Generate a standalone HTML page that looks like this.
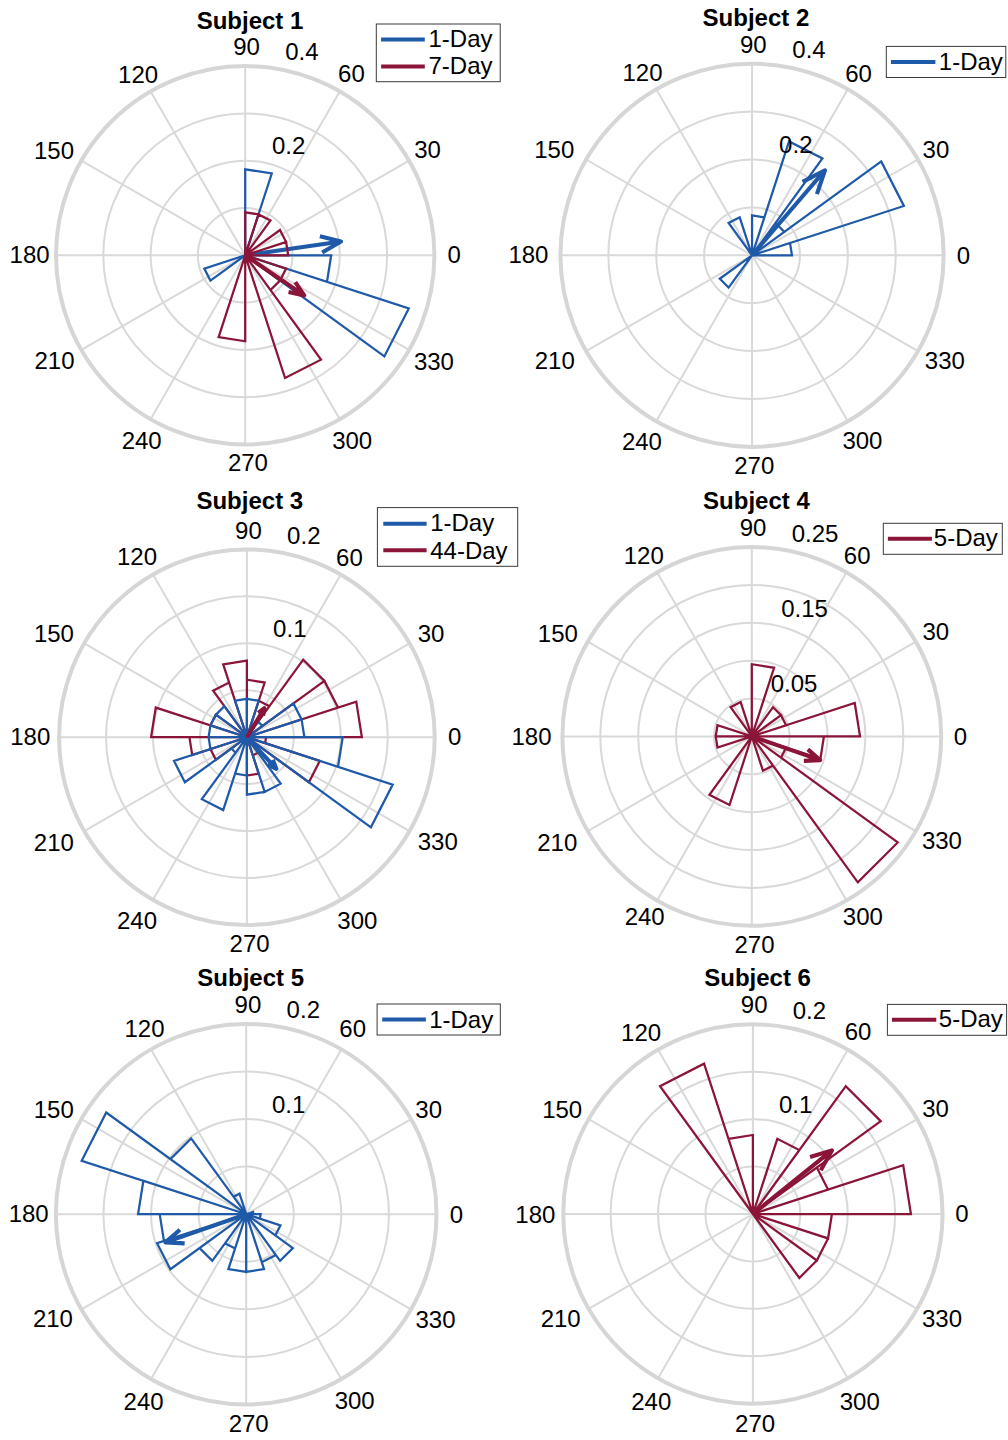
<!DOCTYPE html>
<html lang="en"><head><meta charset="utf-8"><title>Polar histograms</title>
<style>html,body{margin:0;padding:0;background:#fff}svg{display:block}text{font-family:"Liberation Sans", sans-serif;fill:#000}</style></head><body>
<svg width="1008" height="1440" viewBox="0 0 1008 1440">
<rect width="1008" height="1440" fill="#fff"/>
<g>
<g fill="none" stroke="#d9d9d9" stroke-width="2">
<circle cx="245.2" cy="255.3" r="47.3"/>
<circle cx="245.2" cy="255.3" r="94.6"/>
<circle cx="245.2" cy="255.3" r="141.9"/>
<path d="M245.2 255.3L434.4 255.3M245.2 255.3L409.05 160.7M245.2 255.3L339.8 91.45M245.2 255.3L245.2 66.1M245.2 255.3L150.6 91.45M245.2 255.3L81.35 160.7M245.2 255.3L56 255.3M245.2 255.3L81.35 349.9M245.2 255.3L150.6 419.15M245.2 255.3L245.2 444.5M245.2 255.3L339.8 419.15M245.2 255.3L409.05 349.9"/>
</g>
<circle cx="245.2" cy="255.3" r="189.2" fill="none" stroke="#d6d6d6" stroke-width="4"/>
<path d="M245.2 255.3L271.78 173.51L245.2 169.3L245.2 255.3L204.3 268.59L210.41 280.57L245.2 255.3L384.35 356.4L408.78 308.45L245.2 255.3L326.99 281.88L331.2 255.3L245.2 255.3" fill="none" stroke="#1f5aa9" stroke-width="2.25" stroke-linejoin="miter"/>
<path d="M245.2 255.3L341.02 241.56M319.87 236.35L341.02 241.56L322.19 252.5" fill="none" stroke="#1f5aa9" stroke-width="4.1" stroke-linejoin="round" stroke-linecap="butt"/>
<path d="M245.2 255.3L288.2 255.3L286.1 242.01L245.2 255.3L286.1 242.01L279.99 230.03L245.2 255.3L270.47 220.51L258.49 214.4L245.2 255.3L258.49 214.4L245.2 212.3L245.2 255.3L218.62 337.09L245.2 341.3L245.2 255.3L285.06 377.99L321.02 359.66L245.2 255.3L270.47 290.09L279.99 280.57L245.2 255.3L279.99 280.57L286.1 268.59L245.2 255.3" fill="none" stroke="#8b1538" stroke-width="2.25" stroke-linejoin="miter"/>
<path d="M245.2 255.3L304.21 295.39M295.28 282.05L304.21 295.39L288.52 292" fill="none" stroke="#8b1538" stroke-width="4.1" stroke-linejoin="round" stroke-linecap="butt"/>
<g font-size="24" text-anchor="middle">
<text x="454.3" y="262.8">0</text>
<text x="427.5" y="157.5">30</text>
<text x="351.4" y="82.3">60</text>
<text x="246.5" y="54.7">90</text>
<text x="138.1" y="82.7">120</text>
<text x="54.05" y="158.65">150</text>
<text x="29.6" y="262.6">180</text>
<text x="54.55" y="368.7">210</text>
<text x="141.65" y="448.7">240</text>
<text x="247.9" y="471">270</text>
<text x="352.15" y="448.7">300</text>
<text x="433.95" y="369.7">330</text>
<text x="288.7" y="154">0.2</text>
<text x="301.9" y="59.7">0.4</text>
</g>
<text x="250" y="28.6" font-size="24" font-weight="bold" text-anchor="middle">Subject 1</text>
<rect x="376.3" y="24" width="123.9" height="57.7" fill="#fff" stroke="#3a3a3a" stroke-width="1"/>
<line x1="381.1" y1="39.5" x2="424.8" y2="39.5" stroke="#1f5aa9" stroke-width="4"/>
<text x="428.5" y="47.3" font-size="24">1-Day</text>
<line x1="381.1" y1="66.4" x2="424.8" y2="66.4" stroke="#8b1538" stroke-width="4"/>
<text x="428.5" y="74.3" font-size="24">7-Day</text>
</g>
<g>
<g fill="none" stroke="#d9d9d9" stroke-width="2">
<circle cx="752.05" cy="255.3" r="47.9"/>
<circle cx="752.05" cy="255.3" r="95.8"/>
<circle cx="752.05" cy="255.3" r="143.7"/>
<path d="M752.05 255.3L943.65 255.3M752.05 255.3L917.98 159.5M752.05 255.3L847.85 89.37M752.05 255.3L752.05 63.7M752.05 255.3L656.25 89.37M752.05 255.3L586.12 159.5M752.05 255.3L560.45 255.3M752.05 255.3L586.12 351.1M752.05 255.3L656.25 421.23M752.05 255.3L752.05 446.9M752.05 255.3L847.85 421.23M752.05 255.3L917.98 351.1"/>
</g>
<circle cx="752.05" cy="255.3" r="191.6" fill="none" stroke="#d6d6d6" stroke-width="4"/>
<path d="M752.05 255.3L791.97 255.3L790.01 242.97L752.05 255.3L903.9 205.96L881.22 161.45L752.05 255.3L784.34 231.84L775.51 223.01L752.05 255.3L822.44 158.42L789.05 141.41L752.05 255.3L764.38 217.34L752.05 215.38L752.05 255.3L739.72 217.34L728.59 223.01L752.05 255.3L719.76 278.76L728.59 287.59L752.05 255.3" fill="none" stroke="#1f5aa9" stroke-width="2.25" stroke-linejoin="miter"/>
<path d="M752.05 255.3L824.98 170.27M802.6 181.86L824.98 170.27L816.93 194.15" fill="none" stroke="#1f5aa9" stroke-width="4.1" stroke-linejoin="round" stroke-linecap="butt"/>
<g font-size="24" text-anchor="middle">
<text x="963.55" y="263.6">0</text>
<text x="935.93" y="157.9">30</text>
<text x="858.55" y="82.22">60</text>
<text x="753.35" y="53.2">90</text>
<text x="642.55" y="80.62">120</text>
<text x="554.22" y="158.35">150</text>
<text x="528.45" y="263.4">180</text>
<text x="554.72" y="368.5">210</text>
<text x="641.9" y="449.98">240</text>
<text x="754.25" y="474.2">270</text>
<text x="862.4" y="448.78">300</text>
<text x="944.88" y="368.5">330</text>
<text x="795.8" y="152.5">0.2</text>
<text x="809" y="57.5">0.4</text>
</g>
<text x="755.9" y="25.6" font-size="24" font-weight="bold" text-anchor="middle">Subject 2</text>
<rect x="886.3" y="46.4" width="119.5" height="31.1" fill="#fff" stroke="#3a3a3a" stroke-width="1"/>
<line x1="890.9" y1="61.9" x2="935.4" y2="61.9" stroke="#1f5aa9" stroke-width="4"/>
<text x="938.8" y="69.6" font-size="24">1-Day</text>
</g>
<g>
<g fill="none" stroke="#d9d9d9" stroke-width="2">
<circle cx="246.9" cy="737.2" r="46.95"/>
<circle cx="246.9" cy="737.2" r="93.9"/>
<circle cx="246.9" cy="737.2" r="140.85"/>
<path d="M246.9 737.2L434.7 737.2M246.9 737.2L409.54 643.3M246.9 737.2L340.8 574.56M246.9 737.2L246.9 549.4M246.9 737.2L153 574.56M246.9 737.2L84.26 643.3M246.9 737.2L59.1 737.2M246.9 737.2L84.26 831.1M246.9 737.2L153 899.84M246.9 737.2L246.9 925M246.9 737.2L340.8 899.84M246.9 737.2L409.54 831.1"/>
</g>
<circle cx="246.9" cy="737.2" r="187.8" fill="none" stroke="#d6d6d6" stroke-width="4"/>
<path d="M246.9 737.2L361.88 737.2L356.25 701.67L246.9 737.2L338.03 707.59L324.42 680.88L246.9 737.2L324.42 680.88L303.22 659.68L246.9 737.2L269.43 706.19L258.74 700.75L246.9 737.2L264.67 682.52L246.9 679.71L246.9 737.2L246.9 660.55L223.21 664.3L246.9 737.2L229.13 682.52L213.11 690.69L246.9 737.2L215.89 714.67L210.45 725.36L246.9 737.2L155.77 707.59L151.08 737.2L246.9 737.2L189.41 737.2L192.22 754.97L246.9 737.2L210.45 749.04L215.89 759.73L246.9 737.2L246.9 775.53L258.74 773.65L246.9 737.2L252.82 755.43L258.16 752.7L246.9 737.2L308.91 782.26L319.8 760.89L246.9 737.2L265.13 743.12L266.06 737.2L246.9 737.2" fill="none" stroke="#8b1538" stroke-width="2.25" stroke-linejoin="miter"/>
<path d="M246.9 737.2L304.39 737.2L301.58 719.43L246.9 737.2L301.58 719.43L293.41 703.41L246.9 737.2L262.4 725.94L258.16 721.7L246.9 737.2L258.74 700.75L246.9 698.87L246.9 737.2L246.9 698.87L235.06 700.75L246.9 737.2L224.37 706.19L215.89 714.67L246.9 737.2L215.89 714.67L210.45 725.36L246.9 737.2L210.45 725.36L208.57 737.2L246.9 737.2L208.57 737.2L210.45 749.04L246.9 737.2L174 760.89L184.89 782.26L246.9 737.2L231.4 748.46L235.64 752.7L246.9 737.2L201.84 799.21L223.21 810.1L246.9 737.2L235.06 773.65L246.9 775.53L246.9 737.2L246.9 794.69L264.67 791.88L246.9 737.2L264.67 791.88L280.69 783.71L246.9 737.2L370.93 827.31L392.7 784.57L246.9 737.2L338.03 766.81L342.72 737.2L246.9 737.2" fill="none" stroke="#1f5aa9" stroke-width="2.25" stroke-linejoin="miter"/>
<path d="M246.9 737.2L276.37 768.88M272.9 759.79L276.37 768.88L267.55 764.76" fill="none" stroke="#1f5aa9" stroke-width="4.1" stroke-linejoin="round" stroke-linecap="butt"/>
<path d="M246.9 737.2L264.32 708.24M258.25 712.81L264.32 708.24L263.13 715.75" fill="none" stroke="#8b1538" stroke-width="4.1" stroke-linejoin="round" stroke-linecap="butt"/>
<g font-size="24" text-anchor="middle">
<text x="454.6" y="745">0</text>
<text x="431.09" y="641.5">30</text>
<text x="349.4" y="566.21">60</text>
<text x="248.4" y="538.9">90</text>
<text x="137" y="564.61">120</text>
<text x="53.96" y="641.95">150</text>
<text x="30.3" y="744.8">180</text>
<text x="53.86" y="850.9">210</text>
<text x="137.05" y="929.39">240</text>
<text x="249.6" y="952.3">270</text>
<text x="357.35" y="929.39">300</text>
<text x="437.74" y="849.7">330</text>
<text x="289.8" y="636.7">0.1</text>
<text x="303.8" y="544.3">0.2</text>
</g>
<text x="249.8" y="509.3" font-size="24" font-weight="bold" text-anchor="middle">Subject 3</text>
<rect x="377.4" y="507.6" width="140.3" height="58.7" fill="#fff" stroke="#3a3a3a" stroke-width="1"/>
<line x1="383.3" y1="523.7" x2="426.6" y2="523.7" stroke="#1f5aa9" stroke-width="4"/>
<text x="430.2" y="531.3" font-size="24">1-Day</text>
<line x1="383.3" y1="550.3" x2="426.6" y2="550.3" stroke="#8b1538" stroke-width="4"/>
<text x="430.2" y="558.7" font-size="24">44-Day</text>
</g>
<g>
<g fill="none" stroke="#d9d9d9" stroke-width="2">
<circle cx="751.8" cy="736.4" r="37.88"/>
<circle cx="751.8" cy="736.4" r="75.76"/>
<circle cx="751.8" cy="736.4" r="113.64"/>
<circle cx="751.8" cy="736.4" r="151.52"/>
<path d="M751.8 736.4L941.2 736.4M751.8 736.4L915.83 641.7M751.8 736.4L846.5 572.37M751.8 736.4L751.8 547M751.8 736.4L657.1 572.37M751.8 736.4L587.77 641.7M751.8 736.4L562.4 736.4M751.8 736.4L587.77 831.1M751.8 736.4L657.1 900.43M751.8 736.4L751.8 925.8M751.8 736.4L846.5 900.43M751.8 736.4L915.83 831.1"/>
</g>
<circle cx="751.8" cy="736.4" r="189.4" fill="none" stroke="#d6d6d6" stroke-width="4"/>
<path d="M751.8 736.4L860.03 736.4L854.73 702.96L751.8 736.4L786.11 725.25L780.99 715.19L751.8 736.4L780.99 715.19L773.01 707.21L751.8 736.4L774.1 667.78L751.8 664.25L751.8 736.4L740.65 702.09L730.59 707.21L751.8 736.4L717.49 725.25L715.72 736.4L751.8 736.4L715.72 736.4L717.49 747.55L751.8 736.4L709.39 794.77L729.5 805.02L751.8 736.4L762.95 770.71L773.01 765.59L751.8 736.4L857.83 882.33L897.73 842.43L751.8 736.4L780.99 757.61L786.11 747.55L751.8 736.4L820.42 758.7L823.95 736.4L751.8 736.4" fill="none" stroke="#8b1538" stroke-width="2.25" stroke-linejoin="miter"/>
<path d="M751.8 736.4L820.1 760.11M807.85 749.41L820.1 760.11L803.85 760.92" fill="none" stroke="#8b1538" stroke-width="4.1" stroke-linejoin="round" stroke-linecap="butt"/>
<g font-size="24" text-anchor="middle">
<text x="960.5" y="744.7">0</text>
<text x="935.77" y="639.8">30</text>
<text x="857.2" y="563.93">60</text>
<text x="753.1" y="536.1">90</text>
<text x="643.8" y="564.23">120</text>
<text x="557.88" y="642.05">150</text>
<text x="531.5" y="744.5">180</text>
<text x="557.28" y="850.9">210</text>
<text x="644.65" y="924.77">240</text>
<text x="754.5" y="953.2">270</text>
<text x="862.85" y="924.77">300</text>
<text x="941.92" y="848.5">330</text>
<text x="794" y="692.2">0.05</text>
<text x="804.5" y="617.4">0.15</text>
<text x="815" y="542.4">0.25</text>
</g>
<text x="756.4" y="508.9" font-size="24" font-weight="bold" text-anchor="middle">Subject 4</text>
<rect x="883.3" y="523.3" width="119" height="31" fill="#fff" stroke="#3a3a3a" stroke-width="1"/>
<line x1="887.9" y1="538.75" x2="931.9" y2="538.75" stroke="#8b1538" stroke-width="4"/>
<text x="933.8" y="546.4" font-size="24">5-Day</text>
</g>
<g>
<g fill="none" stroke="#d9d9d9" stroke-width="2">
<circle cx="246.2" cy="1214.2" r="47.58"/>
<circle cx="246.2" cy="1214.2" r="95.15"/>
<circle cx="246.2" cy="1214.2" r="142.73"/>
<path d="M246.2 1214.2L436.5 1214.2M246.2 1214.2L411 1119.05M246.2 1214.2L341.35 1049.4M246.2 1214.2L246.2 1023.9M246.2 1214.2L151.05 1049.4M246.2 1214.2L81.4 1119.05M246.2 1214.2L55.9 1214.2M246.2 1214.2L81.4 1309.35M246.2 1214.2L151.05 1379M246.2 1214.2L246.2 1404.5M246.2 1214.2L341.35 1379M246.2 1214.2L411 1309.35"/>
</g>
<circle cx="246.2" cy="1214.2" r="190.3" fill="none" stroke="#d6d6d6" stroke-width="4"/>
<path d="M246.2 1214.2L253.41 1214.2L253.06 1211.97L246.2 1214.2L239.52 1193.63L233.49 1196.71L246.2 1214.2L191.12 1138.39L170.39 1159.12L246.2 1214.2L106.24 1112.51L81.67 1160.74L246.2 1214.2L143.37 1180.79L138.07 1214.2L246.2 1214.2L159.7 1214.2L163.93 1240.93L246.2 1214.2L157.08 1243.16L170.39 1269.28L246.2 1214.2L199.55 1248.1L212.3 1260.85L246.2 1214.2L225.02 1243.36L235.06 1248.48L246.2 1214.2L228.38 1269.04L246.2 1271.87L246.2 1214.2L246.2 1271.87L264.02 1269.04L246.2 1214.2L261.79 1262.19L275.86 1255.02L246.2 1214.2L280.1 1260.85L292.85 1248.1L246.2 1214.2L275.36 1235.38L280.48 1225.34L246.2 1214.2L259.91 1218.65L260.62 1214.2L246.2 1214.2" fill="none" stroke="#1f5aa9" stroke-width="2.25" stroke-linejoin="miter"/>
<path d="M246.2 1214.2L165.45 1242.41M184.67 1243.33L165.45 1242.41L179.92 1229.72" fill="none" stroke="#1f5aa9" stroke-width="4.1" stroke-linejoin="round" stroke-linecap="butt"/>
<g font-size="24" text-anchor="middle">
<text x="456.4" y="1222.6">0</text>
<text x="428.65" y="1117.85">30</text>
<text x="352.65" y="1036.75">60</text>
<text x="247.9" y="1013">90</text>
<text x="144.55" y="1036.65">120</text>
<text x="53.8" y="1118">150</text>
<text x="28.7" y="1222.4">180</text>
<text x="52.9" y="1327.45">210</text>
<text x="143.6" y="1410.15">240</text>
<text x="248.7" y="1432.2">270</text>
<text x="354.7" y="1408.95">300</text>
<text x="435.5" y="1327.55">330</text>
<text x="288.7" y="1113.2">0.1</text>
<text x="303.3" y="1018">0.2</text>
</g>
<text x="250.7" y="986.1" font-size="24" font-weight="bold" text-anchor="middle">Subject 5</text>
<rect x="377.1" y="1004" width="123.2" height="31" fill="#fff" stroke="#3a3a3a" stroke-width="1"/>
<line x1="382.2" y1="1019.4" x2="425.9" y2="1019.4" stroke="#1f5aa9" stroke-width="4"/>
<text x="429.2" y="1027.5" font-size="24">1-Day</text>
</g>
<g>
<g fill="none" stroke="#d9d9d9" stroke-width="2">
<circle cx="752.9" cy="1214" r="47.41"/>
<circle cx="752.9" cy="1214" r="94.83"/>
<circle cx="752.9" cy="1214" r="142.24"/>
<path d="M752.9 1214L942.55 1214M752.9 1214L917.14 1119.17M752.9 1214L847.73 1049.76M752.9 1214L752.9 1024.35M752.9 1214L658.08 1049.76M752.9 1214L588.66 1119.17M752.9 1214L563.25 1214M752.9 1214L588.66 1308.83M752.9 1214L658.07 1378.24M752.9 1214L752.9 1403.65M752.9 1214L847.73 1378.24M752.9 1214L917.14 1308.83"/>
</g>
<circle cx="752.9" cy="1214" r="189.65" fill="none" stroke="#d6d6d6" stroke-width="4"/>
<path d="M752.9 1214L910.94 1214L903.21 1165.16L752.9 1214L828.05 1189.58L816.83 1167.55L752.9 1214L880.76 1121.11L845.79 1086.14L752.9 1214L799.35 1150.07L777.32 1138.85L752.9 1214L752.9 1134.98L728.48 1138.85L752.9 1214L704.06 1063.69L660.01 1086.14L752.9 1214L799.35 1277.93L816.83 1260.45L752.9 1214L816.83 1260.45L828.05 1238.42L752.9 1214L828.05 1238.42L831.92 1214L752.9 1214" fill="none" stroke="#8b1538" stroke-width="2.25" stroke-linejoin="miter"/>
<path d="M752.9 1214L831.9 1150.38M810.06 1156.99L831.9 1150.38L820.78 1170.31" fill="none" stroke="#8b1538" stroke-width="4.1" stroke-linejoin="round" stroke-linecap="butt"/>
<g font-size="24" text-anchor="middle">
<text x="962.05" y="1221.7">0</text>
<text x="935.59" y="1117.38">30</text>
<text x="858.02" y="1040.31">60</text>
<text x="754.2" y="1012.95">90</text>
<text x="641.07" y="1040.61">120</text>
<text x="562.16" y="1117.62">150</text>
<text x="535.35" y="1222.5">180</text>
<text x="560.66" y="1326.92">210</text>
<text x="651.23" y="1410.39">240</text>
<text x="755.1" y="1432.35">270</text>
<text x="859.77" y="1410.39">300</text>
<text x="942.04" y="1326.92">330</text>
<text x="795.7" y="1113">0.1</text>
<text x="809.4" y="1019.4">0.2</text>
</g>
<text x="757.6" y="986.1" font-size="24" font-weight="bold" text-anchor="middle">Subject 6</text>
<rect x="887.4" y="1004.4" width="119.2" height="30.9" fill="#fff" stroke="#3a3a3a" stroke-width="1"/>
<line x1="892" y1="1019.7" x2="936.3" y2="1019.7" stroke="#8b1538" stroke-width="4"/>
<text x="938.8" y="1027.4" font-size="24">5-Day</text>
</g>
</svg></body></html>
